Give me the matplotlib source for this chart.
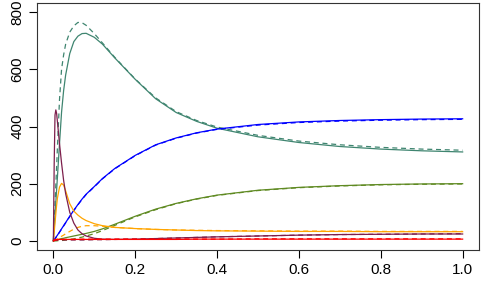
import matplotlib
matplotlib.use('Agg')
import matplotlib.pyplot as plt

# shared time grid
t = [0, 0.002, 0.004, 0.006, 0.008, 0.01, 0.015, 0.02, 0.025, 0.03,
     0.04, 0.05, 0.06, 0.07, 0.08, 0.1, 0.12, 0.15, 0.2, 0.25,
     0.3, 0.35, 0.4, 0.5, 0.6, 0.7, 0.8, 0.9, 1.0]

# teal
teal_solid = [0, 45, 90, 135, 180, 225, 340, 450, 525, 580,
              655, 697, 716, 725, 726, 712, 688, 640, 565, 497,
              449, 418, 394, 364, 344, 330, 321, 315, 311]
teal_dash = [0, 65, 130, 195, 260, 330, 494, 600, 650, 688,
             730, 752, 764, 763, 754, 725, 692, 642, 566, 500,
             452, 421, 398, 369, 349, 336, 327, 321, 317]
# blue
blue_solid = [0, 4, 8, 12, 16, 20, 31, 42, 53, 64,
              86, 107, 127, 146, 163, 190, 218, 253, 299, 336,
              360, 378, 391, 407, 416, 421, 424, 426, 427]
blue_dash = [0, 3, 7, 11, 15, 19, 30, 41, 52, 63,
             85, 106, 126, 145, 162, 189, 217, 252, 298, 335,
             359, 377, 390, 405, 414, 419, 422, 424, 425]
# olive
olive_solid = [0, 1, 2, 3, 3, 4, 6, 8, 9, 11,
               14, 17, 20, 23, 26, 33, 42, 58, 86, 111,
               131, 147, 160, 177, 187, 193, 197, 199, 200]
olive_dash = [0, 0, 0, 0, 0, 0.5, 1, 1, 2, 3,
              5, 7, 10, 13, 17, 25, 36, 54, 84, 109,
              130, 146, 159, 176, 186, 192, 196, 198, 199]
# orange
orange_solid = [0, 30, 62, 95, 125, 150, 188, 201, 195, 175,
                130, 104, 90, 79, 71, 60, 53, 47, 43, 40,
                38, 36, 35, 34, 33, 33, 32, 32, 32]
orange_dash = [0, 1, 2, 4, 5, 7, 11, 16, 20, 25,
               33, 41, 47, 51, 53, 53, 51, 47, 43, 40,
               38, 37, 36, 35, 34, 34, 33, 33, 33]
# maroon
maroon_solid = [0, 270, 440, 458, 445, 415, 340, 272, 212, 165,
                100, 62, 38, 25, 17, 9, 6, 5, 6, 8,
                10, 12, 14, 17, 20, 22, 23, 24, 24]
maroon_dash = [0, 1, 1, 2, 2, 2, 3, 3, 3, 3,
               3, 3, 3, 3, 3, 4, 4, 5, 6, 8,
               10, 12, 14, 17, 20, 22, 23, 24, 25]
# red
red_solid = [0, 3, 5, 5, 5, 5, 5, 5, 5, 5,
             5, 5, 5, 5, 5, 5, 5, 5, 5, 5,
             5, 6, 6, 6, 6, 6, 6, 6, 6]
red_dash = [0, 1, 2, 3, 4, 4, 5, 5, 5, 5,
            5, 5, 5, 6, 6, 6, 6, 6, 6, 6,
            6, 6, 6, 7, 7, 7, 7, 7, 7]

series = [
    (teal_solid, teal_dash, '#3f8570'),
    (blue_solid, blue_dash, '#0000ff'),
    (olive_solid, olive_dash, '#5f8a22'),
    (orange_solid, orange_dash, '#ffa500'),
    (maroon_solid, maroon_dash, '#7d1f4c'),
    (red_solid, red_dash, '#ff0000'),
]

plt.rcParams['font.family'] = ['Liberation Sans', 'DejaVu Sans']

fig = plt.figure(figsize=(4.82, 2.88), dpi=100)
ax = fig.add_axes([37 / 482, 38 / 288, 442 / 482, 247 / 288])

for solid, dash, c in series:
    ax.plot(t, solid, color=c, lw=0.9)
    ax.plot(t, dash, color=c, lw=0.9, linestyle=(0, (4, 3)))

ax.set_xlim(-0.04, 1.04)
ax.set_ylim(-32, 832)
ax.set_xticks([0.0, 0.2, 0.4, 0.6, 0.8, 1.0])
ax.set_xticklabels(['0.0', '0.2', '0.4', '0.6', '0.8', '1.0'])
ax.set_yticks([0, 200, 400, 600, 800])
ax.tick_params(length=6, width=0.8, labelsize=11, pad=3)
for lab in ax.get_yticklabels():
    lab.set_rotation(90)
    lab.set_va('center')
for s in ax.spines.values():
    s.set_linewidth(0.8)
    s.set_color('#333333')

fig.savefig('out.png', dpi=100)
